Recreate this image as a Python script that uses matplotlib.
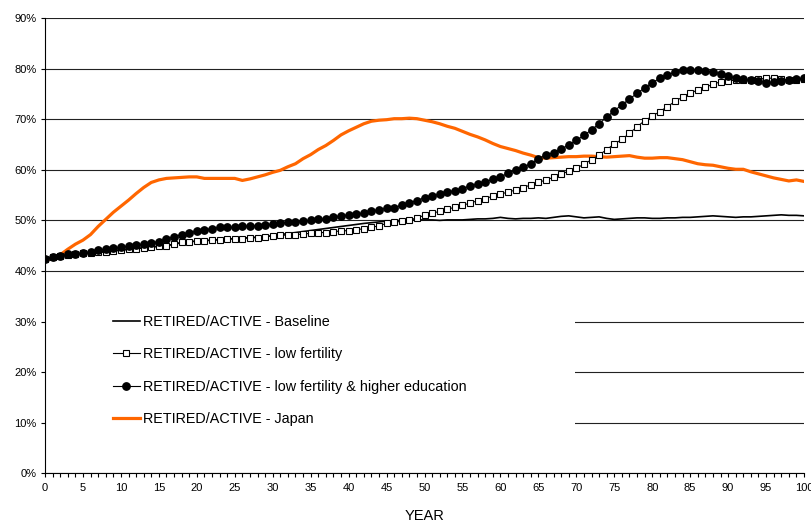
import matplotlib
matplotlib.use("Agg")
import matplotlib.pyplot as plt
from matplotlib.patches import Rectangle
from matplotlib.ticker import MultipleLocator, FuncFormatter

plt.rcParams['font.family'] = ['Liberation Sans', 'DejaVu Sans']

years = list(range(0, 101))

baseline = [42.4, 42.7, 43.0, 43.1, 43.3, 43.5, 43.6, 43.7, 43.8, 44.0,
            44.1, 44.3, 44.4, 44.6, 44.7, 44.9, 45.0, 45.3, 45.6, 45.8,
            45.9, 46.0, 46.1, 46.2, 46.3, 46.4, 46.5, 46.6, 46.7, 46.8,
            47.0, 47.2, 47.4, 47.6, 47.8, 48.0, 48.2, 48.4, 48.6, 48.8,
            49.0, 49.2, 49.4, 49.55, 49.7, 49.85, 49.95, 50.0, 50.05, 50.1,
            50.1, 50.1, 50.0, 50.1, 50.1, 50.1, 50.2, 50.3, 50.3, 50.4,
            50.6, 50.4, 50.3, 50.4, 50.4, 50.5, 50.4, 50.6, 50.8, 50.9,
            50.7, 50.5, 50.6, 50.7, 50.4, 50.2, 50.3, 50.4, 50.5, 50.5,
            50.4, 50.4, 50.5, 50.5, 50.6, 50.6, 50.7, 50.8, 50.9, 50.8,
            50.7, 50.6, 50.7, 50.7, 50.8, 50.9, 51.0, 51.1, 51.0, 51.0,
            50.9]

low_fertility = [42.4, 42.7, 43.0, 43.1, 43.3, 43.5, 43.6, 43.7, 43.8, 44.0,
                 44.1, 44.3, 44.4, 44.6, 44.7, 44.9, 45.0, 45.3, 45.7, 45.8,
                 45.9, 46.0, 46.1, 46.2, 46.3, 46.4, 46.4, 46.6, 46.6, 46.8,
                 46.9, 47.05, 47.1, 47.2, 47.3, 47.45, 47.6, 47.6, 47.8, 47.9,
                 48.0, 48.1, 48.4, 48.6, 48.95, 49.4, 49.6, 49.85, 50.1, 50.5,
                 51.0, 51.4, 51.8, 52.2, 52.6, 53.0, 53.4, 53.9, 54.3, 54.8,
                 55.2, 55.6, 56.0, 56.5, 57.0, 57.5, 58.0, 58.5, 59.2, 59.7,
                 60.3, 61.1, 62.0, 62.9, 64.0, 65.1, 66.0, 67.2, 68.5, 69.7,
                 70.6, 71.5, 72.5, 73.5, 74.4, 75.1, 75.8, 76.3, 76.9, 77.4,
                 77.6, 77.7, 77.7, 77.8, 77.9, 78.1, 78.1, 77.9, 77.8, 77.8,
                 77.9]

low_fert_edu = [42.4, 42.7, 43.0, 43.3, 43.4, 43.6, 43.8, 44.1, 44.3, 44.5,
                44.7, 44.9, 45.1, 45.3, 45.6, 45.8, 46.3, 46.8, 47.2, 47.5,
                47.9, 48.1, 48.4, 48.6, 48.6, 48.6, 48.8, 48.9, 48.95, 49.1,
                49.3, 49.5, 49.6, 49.7, 49.8, 50.0, 50.2, 50.3, 50.7, 50.9,
                51.1, 51.2, 51.5, 51.9, 52.1, 52.4, 52.5, 53.0, 53.5, 53.9,
                54.5, 54.8, 55.2, 55.6, 55.9, 56.3, 56.8, 57.2, 57.6, 58.1,
                58.6, 59.3, 60.0, 60.5, 61.2, 62.2, 62.9, 63.4, 64.1, 64.9,
                65.8, 66.8, 67.9, 69.1, 70.4, 71.7, 72.8, 74.0, 75.1, 76.2,
                77.2, 78.1, 78.7, 79.3, 79.7, 79.8, 79.8, 79.6, 79.3, 79.0,
                78.5, 78.1, 77.9, 77.7, 77.6, 77.2, 77.4, 77.6, 77.7, 77.9,
                78.1]

japan = [42.0, 42.6, 43.2, 44.3, 45.3, 46.1, 47.2, 48.8, 50.2, 51.6,
         52.8, 54.0, 55.3, 56.5, 57.5, 58.0, 58.3, 58.4, 58.5, 58.6,
         58.6, 58.3, 58.3, 58.3, 58.3, 58.3, 57.9, 58.2, 58.6, 59.0,
         59.5, 59.9, 60.6, 61.2, 62.2, 63.0, 64.0, 64.8, 65.8, 66.9,
         67.7, 68.4, 69.1, 69.6, 69.8, 69.9, 70.1, 70.1, 70.2, 70.1,
         69.8, 69.5, 69.1, 68.6, 68.2, 67.6, 67.0, 66.5, 65.9, 65.2,
         64.6, 64.2, 63.8, 63.3, 62.9, 62.4, 62.3, 62.4, 62.5, 62.6,
         62.6, 62.7, 62.7, 62.6, 62.5, 62.6, 62.7, 62.8, 62.5, 62.3,
         62.3, 62.4, 62.4, 62.2, 62.0, 61.6, 61.2, 61.0, 60.9, 60.6,
         60.3, 60.1, 60.1, 59.6, 59.2, 58.8, 58.4, 58.1, 57.8, 58.0,
         57.7]

labels = ["RETIRED/ACTIVE - Baseline",
          "RETIRED/ACTIVE - low fertility",
          "RETIRED/ACTIVE - low fertility & higher education",
          "RETIRED/ACTIVE - Japan"]

fig = plt.figure(figsize=(8.11, 5.23), dpi=100)
ax = fig.add_axes([0.0555, 0.0948, 0.9359, 0.8708])

ax.plot(years, baseline, color='black', lw=1.2, zorder=3, label=labels[0])
ax.plot(years, low_fertility, color='black', lw=0.8, marker='s', ms=4.9,
        mfc='white', mec='black', mew=0.8, zorder=4, label=labels[1])
ax.plot(years, low_fert_edu, color='black', lw=0.8, marker='o', ms=5.3,
        mfc='black', mec='black', zorder=5, label=labels[2])
ax.plot(years, japan, color='#FF6600', lw=2.3, zorder=2.8, label=labels[3])

ax.set_xlim(0, 100)
ax.set_ylim(0, 90)
ax.xaxis.set_major_locator(MultipleLocator(5))
ax.xaxis.set_minor_locator(MultipleLocator(1))
ax.yaxis.set_major_locator(MultipleLocator(10))
ax.yaxis.set_major_formatter(FuncFormatter(lambda v, p: f"{v:.0f}%"))

ax.grid(axis='y', color='#222222', lw=0.8)
ax.set_axisbelow(True)

for s in ['top', 'right']:
    ax.spines[s].set_visible(False)
for s in ['left', 'bottom']:
    ax.spines[s].set_linewidth(0.8)
    ax.spines[s].set_zorder(6)

ax.tick_params(axis='both', which='both', direction='out', length=3, width=0.8,
               labelsize=8)
ax.tick_params(axis='x', which='major', pad=4)
ax.tick_params(axis='y', pad=3)

ax.set_xlabel("YEAR", fontsize=10.5, labelpad=11.5)

# white background behind the legend hides the grid lines there
ax.add_patch(Rectangle((0.0, 0.03), 0.698, 0.37, transform=ax.transAxes,
                       facecolor='white', edgecolor='none', zorder=1.5))

leg = ax.legend(loc='center left', bbox_to_anchor=(0.0896, 0.226),
                frameon=False, fontsize=10.4, numpoints=1,
                handlelength=1.86, handletextpad=0.2, labelspacing=1.28,
                borderpad=0, borderaxespad=0)
leg.set_zorder(7)

fig.savefig("out.png", dpi=100)
